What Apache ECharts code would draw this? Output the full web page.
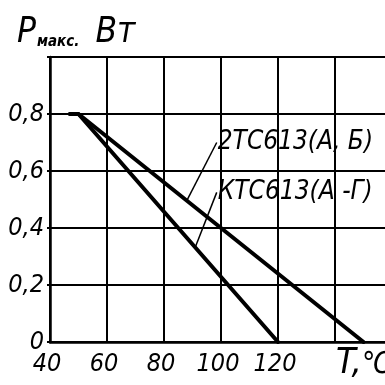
<!DOCTYPE html>
<html>
<head>
<meta charset="utf-8">
<script src="https://cdn.jsdelivr.net/npm/echarts@6/dist/echarts.min.js"></script>
<style>html,body{margin:0;padding:0;background:#fff}#c{width:385px;height:385px}</style>
</head>
<body>
<div id="c"></div>
<script>
// Data
const seriesNames = ['2ТС613(А, Б)', 'КТС613(А-Г)'];
const curve2TC = [[47, 0.8], [50, 0.8], [150, 0]];
const curveKTC = [[47, 0.8], [50, 0.8], [120, 0]];
const xTicks = [40, 60, 80, 100, 120];
const yTicks = [0, 0.2, 0.4, 0.6, 0.8];
// annotation leader lines (data coords): label anchor -> point on curve
const leader2TC = [[98.5, 0.70], [88, 0.496]];
const leaderKTC = [[98.5, 0.525], [91, 0.333]];
const labelText = ['2ТС613(А, Б)', 'КТС613(А -Г)'];

const FONT = "'Liberation Sans Narrow', 'DejaVu Sans Condensed', sans-serif";
const chart = echarts.init(document.getElementById('c'), null, {renderer: 'canvas'});

function curveSeries(name, data, leader, text) {
  return {
    name: name,
    type: 'line',
    data: data,
    symbol: 'none',
    silent: true,
    lineStyle: {color: '#000', width: 4, cap: 'round', join: 'round'},
    z: 5,
    markLine: {
      silent: true,
      symbol: ['none', 'none'],
      lineStyle: {color: '#000', width: 1.5, type: 'solid'},
      label: {show: false},
      data: [[{coord: leader[0]}, {coord: leader[1]}]]
    },
    markPoint: {
      silent: true,
      symbol: 'circle',
      symbolSize: 0,
      data: [{coord: leader[0]}],
      label: {
        show: true,
        position: 'right',
        distance: 1,
        formatter: text,
        color: '#000',
        fontFamily: FONT,
        fontStyle: 'italic',
        fontSize: 26
      }
    }
  };
}

chart.setOption({
  animation: false,
  backgroundColor: '#fff',
  title: {
    left: 12,
    top: 10,
    text: '{p|Р}{s|макс.}{g| }{p|Вт}',
    textStyle: {
      rich: {
        p: {fontFamily: FONT, fontStyle: 'italic', fontWeight: 'normal', fontSize: 35, color: '#000'},
        g: {fontSize: 14, width: 16},
        s: {fontFamily: FONT, fontStyle: 'italic', fontWeight: 'bold', fontSize: 15, color: '#000', verticalAlign: 'bottom', padding: [14, 0, 0, 1]}
      }
    }
  },
  grid: {left: 50, top: 57, width: 342, height: 285, containLabel: false, outerBoundsMode: 'none'},
  xAxis: {
    type: 'value',
    min: 40, max: 160, interval: 20,
    axisLine: {show: true, lineStyle: {color: '#000', width: 2.5}},
    axisTick: {show: false},
    splitLine: {show: true, lineStyle: {color: '#000', width: 2}},
    axisLabel: {
      color: '#000', fontFamily: FONT, fontStyle: 'italic', fontSize: 25, margin: 10,
      padding: [0, 6, 0, 0],
      formatter: v => xTicks.includes(v) ? String(v) : ''
    }
  },
  yAxis: {
    type: 'value',
    min: 0, max: 1.0, interval: 0.2,
    axisLine: {show: true, lineStyle: {color: '#000', width: 2.5}},
    axisTick: {show: true, length: 3, lineStyle: {color: '#000', width: 2}},
    splitLine: {show: true, lineStyle: {color: '#000', width: 2}},
    axisLabel: {
      color: '#000', fontFamily: FONT, fontStyle: 'italic', fontSize: 25, margin: 6,
      padding: [4, 0, 0, 0],
      formatter: v => {
        const t = yTicks.find(y => Math.abs(y - v) < 1e-9);
        if (t === undefined) return '';
        return t === 0 ? '0' : String(t).replace('.', ',');
      }
    }
  },
  graphic: [
    {type: 'text', left: 336, top: 346, style: {text: 'T,', fontFamily: FONT, fontStyle: 'italic', fontSize: 36, fill: '#000'}},
    {type: 'text', left: 362, top: 350, style: {text: '℃', fontFamily: FONT, fontStyle: 'italic', fontSize: 30, fill: '#000'}}
  ],
  series: [
    curveSeries(seriesNames[0], curve2TC, leader2TC, labelText[0]),
    curveSeries(seriesNames[1], curveKTC, leaderKTC, labelText[1])
  ]
});
</script>
</body>
</html>
